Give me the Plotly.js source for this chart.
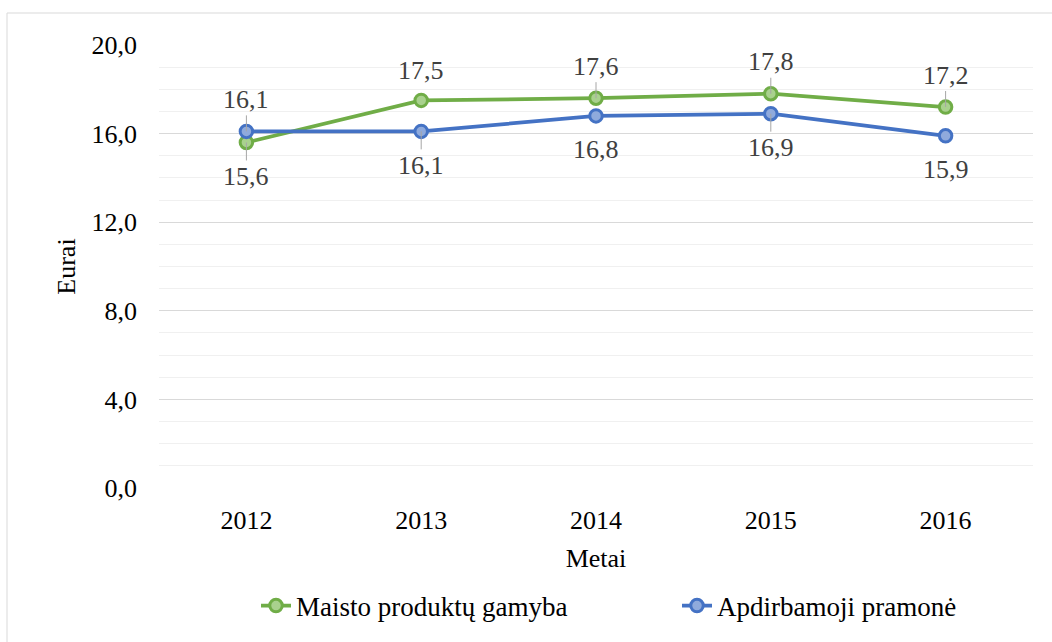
<!DOCTYPE html>
<html>
<head>
<meta charset="utf-8">
<script src="https://cdn.plot.ly/plotly-3.0.1.min.js"></script>
<style>
  html, body { margin: 0; padding: 0; background: #fff; }
  #chart { width: 1052px; height: 642px; }
</style>
</head>
<body>
<div id="chart"></div>
<script>
// ---- data ----
const years = ['2012', '2013', '2014', '2015', '2016'];
const maistoName = 'Maisto produktų gamyba';
const maistoValues = [15.6, 17.5, 17.6, 17.8, 17.2];
const apdirbName = 'Apdirbamoji pramonė';
const apdirbValues = [16.1, 16.1, 16.8, 16.9, 15.9];
const yTickVals = [0, 4, 8, 12, 16, 20];
const xTitle = 'Metai';
const yTitle = 'Eurai';

// ---- label placement (style) ----
const maistoAbove = [false, true, true, true, true];
const maistoLeader = [true, false, true, true, true];
const apdirbAbove = [true, false, false, false, false];
const apdirbLeader = [true, true, false, true, false];

const FONT = 'Liberation Serif';
const fmt = v => v.toFixed(1).replace('.', ',');

const M = { l: 159, r: 19, t: 45, b: 154 };
const plotW = 1052 - M.l - M.r, plotH = 642 - M.t - M.b;

function series(name, vals, color, fill, legendId) {
  return {
    type: 'scatter', mode: 'lines+markers', name: name,
    x: years, y: vals, legend: legendId,
    line: { color: color, width: 3.75 },
    marker: { symbol: 'circle', size: 12.5, color: fill, line: { color: color, width: 3 } },
    hoverinfo: 'skip'
  };
}

function labels(vals, above, leader) {
  return vals.map((v, i) => {
    const up = above[i];
    const a = {
      x: i, y: v, xref: 'x', yref: 'y',
      text: fmt(v),
      font: { family: FONT, size: 26, color: '#404040' }
    };
    if (leader[i]) {
      a.showarrow = true; a.arrowhead = 0; a.arrowwidth = 1; a.arrowcolor = '#a6a6a6';
      a.ax = 0; a.ay = up ? -32 : 34; a.standoff = 0;
    } else {
      a.showarrow = false; a.yshift = up ? 30 : -34;
    }
    return a;
  });
}

function legendAt(px) {
  return {
    orientation: 'h', x: (px - M.l) / plotW, xanchor: 'left',
    y: (M.t + plotH - 606) / plotH, yanchor: 'middle',
    font: { family: FONT, size: 27, color: '#000' },
    bgcolor: 'rgba(0,0,0,0)'
  };
}

const data = [
  series(maistoName, maistoValues, '#70ad47', '#a9d18e', 'legend'),
  series(apdirbName, apdirbValues, '#4472c4', '#8faadc', 'legend2')
];

const layout = {
  width: 1052, height: 642,
  margin: M,
  paper_bgcolor: '#fff', plot_bgcolor: '#fff',
  separators: ',.',
  font: { family: FONT, size: 26, color: '#000' },
  showlegend: true,
  legend: legendAt(256),
  legend2: legendAt(677),
  xaxis: {
    type: 'category', range: [-0.5, 4.5],
    showgrid: false, zeroline: false, showline: false, ticks: '',
    ticklabelstandoff: 14,
    tickfont: { family: FONT, size: 26, color: '#000' },
    title: { text: xTitle, font: { family: FONT, size: 26, color: '#000' }, standoff: 14 }
  },
  yaxis: {
    range: [0, 20], tickvals: yTickVals, tickformat: '.1f',
    showgrid: true, gridcolor: '#d9d9d9', gridwidth: 1,
    minor: { dtick: 1, showgrid: true, gridcolor: '#f0f0f0', gridwidth: 1, ticks: '' },
    zeroline: false, showline: false, ticks: '',
    ticklabelstandoff: 21,
    tickfont: { family: FONT, size: 26, color: '#000' },
    title: { text: yTitle, font: { family: FONT, size: 26, color: '#000' }, standoff: 8 }
  },
  annotations: labels(maistoValues, maistoAbove, maistoLeader)
    .concat(labels(apdirbValues, apdirbAbove, apdirbLeader)),
  shapes: [{
    type: 'rect', xref: 'paper', yref: 'paper',
    x0: (7 - M.l) / plotW, x1: (1060 - M.l) / plotW,
    y0: (M.t + plotH - 650) / plotH, y1: (M.t + plotH - 13) / plotH,
    line: { color: '#d9d9d9', width: 1 }, fillcolor: 'rgba(0,0,0,0)', layer: 'below'
  }]
};

Plotly.newPlot('chart', data, layout, { displayModeBar: false });
</script>
</body>
</html>
